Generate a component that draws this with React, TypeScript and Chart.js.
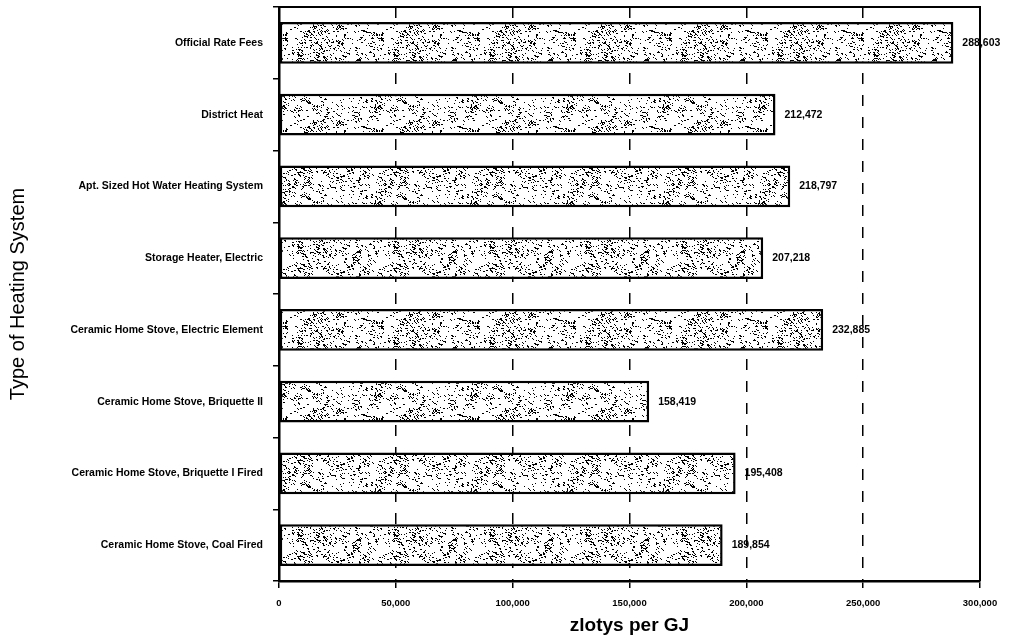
import React, { useEffect, useRef } from 'react';
import { Chart, registerables } from 'chart.js';

Chart.register(...registerables);

const categories = [
  'Official Rate Fees',
  'District Heat',
  'Apt. Sized Hot Water Heating System',
  'Storage Heater, Electric',
  'Ceramic Home Stove, Electric Element',
  'Ceramic Home Stove, Briquette II',
  'Ceramic Home Stove, Briquette I Fired',
  'Ceramic Home Stove, Coal Fired',
];
const costValues = [288603, 212472, 218797, 207218, 232885, 158419, 195408, 189854];
const xMin = 0;
const xMax = 300000;
const xStep = 50000;
const xTitle = 'zlotys per GJ';
const yTitle = 'Type of Heating System';

function hash2(x: number, y: number, s: number): number {
  let h = (Math.imul(x, 374761393) + Math.imul(y, 668265263) + Math.imul(s, 1442695041)) >>> 0;
  h = Math.imul(h ^ (h >>> 13), 1274126177) >>> 0;
  h = (h ^ (h >>> 16)) >>> 0;
  return h;
}

function makeSpecklePattern(ctx: CanvasRenderingContext2D): CanvasPattern | string {
  const size = 96;
  const c = document.createElement('canvas');
  c.width = size;
  c.height = size;
  const g = c.getContext('2d');
  if (!g) return '#fff';
  g.fillStyle = '#fff';
  g.fillRect(0, 0, size, size);
  g.fillStyle = '#000';
  for (let y = 0; y < size; y++) {
    for (let x = 0; x < size; x++) {
      const block = hash2(x >> 3, y >> 3, 7) & 255;
      const threshold = block < 90 ? 10 : block < 190 ? 26 : 48;
      const h = hash2(x, y, 1);
      if ((h & 255) < threshold) {
        g.fillRect(x, y, 1, 1);
        if ((h & 0x300) === 0) g.fillRect(x + 1, y + 1, 1, 1);
        if ((h & 0xc00) === 0) g.fillRect(x + 1, y, 1, 1);
      }
    }
  }
  return ctx.createPattern(c, 'repeat') || '#fff';
}

const framePlugin = {
  id: 'frameBox',
  beforeDatasetsDraw(chart: any) {
    const { ctx, chartArea } = chart;
    ctx.save();
    ctx.strokeStyle = '#000';
    ctx.lineWidth = 2;
    ctx.beginPath();
    ctx.moveTo(chartArea.left, chartArea.top);
    ctx.lineTo(chartArea.right, chartArea.top);
    ctx.lineTo(chartArea.right, chartArea.bottom);
    ctx.stroke();
    ctx.restore();
  },
};

const valueLabelPlugin = {
  id: 'valueLabels',
  afterDatasetsDraw(chart: any) {
    const { ctx } = chart;
    const meta = chart.getDatasetMeta(0);
    const data = chart.data.datasets[0].data as number[];
    ctx.save();
    ctx.fillStyle = '#000';
    ctx.font = 'bold 10.5px Arial, "Liberation Sans", sans-serif';
    ctx.textAlign = 'left';
    ctx.textBaseline = 'middle';
    meta.data.forEach((el: any, i: number) => {
      ctx.fillText(data[i].toLocaleString('en-US'), el.x + 9, el.y);
    });
    ctx.restore();
  },
};

export default function App() {
  const canvasRef = useRef<HTMLCanvasElement | null>(null);

  useEffect(() => {
    const canvas = canvasRef.current;
    if (!canvas) return;
    const ctx = canvas.getContext('2d');
    if (!ctx) return;
    const pattern = makeSpecklePattern(ctx);

    const chart = new Chart(ctx, {
      type: 'bar',
      data: {
        labels: categories,
        datasets: [
          {
            data: costValues,
            backgroundColor: pattern as any,
            borderColor: '#000',
            borderWidth: 2.5,
            borderSkipped: false,
            barPercentage: 0.585,
            categoryPercentage: 1,
          },
        ],
      },
      options: {
        animation: false,
        responsive: false,
        maintainAspectRatio: false,
        indexAxis: 'y',
        layout: { padding: { top: 7, right: 36, left: 0, bottom: 0 } },
        plugins: {
          legend: { display: false },
          tooltip: { enabled: false },
          title: { display: false },
        },
        scales: {
          y: {
            type: 'category',
            position: 'left',
            grid: {
              offset: true,
              drawOnChartArea: false,
              drawTicks: true,
              tickLength: 6,
              color: '#000',
              lineWidth: 1.5,
            },
            border: { display: true, color: '#000', width: 2.5 },
            ticks: {
              color: '#000',
              padding: 10,
              font: { family: 'Arial, "Liberation Sans", sans-serif', size: 10.5, weight: 'bold' },
            },
            title: {
              display: true,
              text: yTitle,
              color: '#000',
              padding: { top: 6, bottom: 0 },
              font: { family: 'Arial, "Liberation Sans", sans-serif', size: 20 },
            },
            afterFit(scale: any) {
              scale.width = 279;
              scale.paddingTop = 0;
              scale.paddingBottom = 0;
            },
          },
          x: {
            type: 'linear',
            position: 'bottom',
            min: xMin,
            max: xMax,
            grid: {
              color: '#000',
              lineWidth: 1.5,
              tickLength: 7,
              drawTicks: true,
              drawOnChartArea: true,
            },
            border: { display: true, color: '#000', width: 2.5, dash: [11, 11] },
            ticks: {
              stepSize: xStep,
              color: '#000',
              padding: 10,
              maxRotation: 0,
              font: { family: 'Arial, "Liberation Sans", sans-serif', size: 9.5, weight: 'bold' },
              callback: (v: any) => Number(v).toLocaleString('en-US'),
            },
            title: {
              display: true,
              text: xTitle,
              color: '#000',
              padding: { top: 0, bottom: 2 },
              font: { family: 'Arial, "Liberation Sans", sans-serif', size: 19, weight: 'bold' },
            },
            afterFit(scale: any) {
              scale.height = 58;
            },
          },
        },
      } as any,
      plugins: [framePlugin, valueLabelPlugin],
    });

    return () => {
      chart.destroy();
    };
  }, []);

  return (
    <div style={{ position: 'fixed', left: 0, top: 0, width: 1016, height: 639, background: '#fff' }}>
      <canvas ref={canvasRef} width={1016} height={639} style={{ display: 'block', width: 1016, height: 639 }} />
    </div>
  );
}
